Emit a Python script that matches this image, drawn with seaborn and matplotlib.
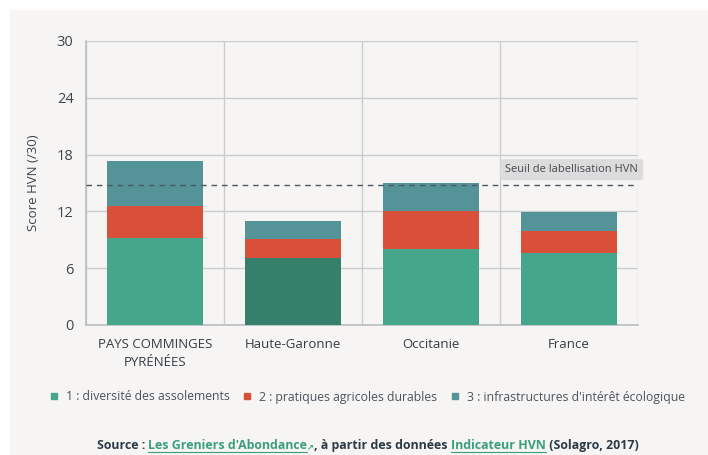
import matplotlib
matplotlib.use("Agg")
import matplotlib.pyplot as plt
from matplotlib.lines import Line2D
from matplotlib.patches import Rectangle
import pandas as pd
import seaborn as sns

# data

territoires = ["PAYS COMMINGES\nPYRÉNÉES", "Haute-Garonne", "Occitanie", "France"]
assolements = [9.2, 7.1, 8.0, 7.6]
pratiques = [3.4, 2.0, 4.0, 2.3]
infrastructures = [4.7, 1.9, 3.0, 2.0]
seuil_hvn = 14.8
yticks = [0, 6, 12, 18, 24, 30]
legend_labels = ["1 : diversité des assolements", "2 : pratiques agricoles durables",
                 "3 : infrastructures d'intérêt écologique"]

# colours

green = "#46a68c"
green_dark = "#35806a"
red = "#d8503a"
teal = "#549499"
grid_col = "#c9cdd1"
text_col = "#3b4652"
bg = "#f6f5f3"

df = pd.DataFrame({
    "territoire": territoires,
    "c1": assolements,
    "c2": pratiques,
    "c3": infrastructures,
})
df["cum2"] = df["c1"] + df["c2"]
df["cum3"] = df["cum2"] + df["c3"]

sns.set_style("white")
plt.rcParams["font.family"] = ["Open Sans", "DejaVu Sans"]

fig = plt.figure(figsize=(7.08, 4.55), dpi=100, facecolor="white")
fig.patches.append(Rectangle((10 / 708, 0), 1, 1 - 10 / 455, transform=fig.transFigure,
                             facecolor=bg, edgecolor="none", zorder=-10))
ax = fig.add_axes([86 / 708, 1 - 325 / 455, (638 - 86) / 708, (325 - 41) / 455])
ax.set_facecolor(bg)

# stacked bars: draw cumulative totals from top down
bar_kw = dict(width=0.7, ax=ax, zorder=3, saturation=1, linewidth=0)
sns.barplot(data=df, x="territoire", y="cum3", color=teal, **bar_kw)
sns.barplot(data=df, x="territoire", y="cum2", color=red, **bar_kw)
sns.barplot(data=df, x="territoire", y="c1", hue="territoire", legend=False,
            palette=[green, green_dark, green, green], **bar_kw)

# threshold line
ax.axhline(seuil_hvn, color="#4b5661", lw=1, ls=(0, (4, 3.5)), zorder=4)
ax.annotate("Seuil de labellisation HVN", xy=(3.02, seuil_hvn), xytext=(0, 7),
            textcoords="offset points", ha="center", va="bottom", fontsize=8,
            color="#444b52", annotation_clip=False, zorder=5,
            bbox=dict(boxstyle="round,pad=0.45,rounding_size=0.3", fc="#dcdcdc", ec="none"))

# axes, grid
ax.set_ylim(0, 30)
ax.set_xlim(-0.5, 3.5)
ax.set_yticks(yticks)
ax.set_xticks(range(len(territoires)))
ax.set_xticks([-0.5, 0.5, 1.5, 2.5, 3.5], minor=True)
ax.set_xticklabels(territoires, fontsize=9.5, color="#333d47", linespacing=1.5)
ax.tick_params(axis="x", which="major", length=0, pad=9)
ax.tick_params(axis="x", which="minor", length=5, color=grid_col, width=1)
ax.tick_params(axis="y", length=3, color=grid_col, width=1, labelsize=10.5, labelcolor=text_col, pad=6)
ax.grid(axis="y", color=grid_col, lw=1, zorder=0)
ax.grid(axis="x", which="minor", color=grid_col, lw=1, zorder=0)
ax.set_axisbelow(True)
for s in ["top", "right"]:
    ax.spines[s].set_visible(False)
for s in ["left", "bottom"]:
    ax.spines[s].set_color("#b9bec3")
    ax.spines[s].set_linewidth(1.2)
ax.set_xlabel("")
ax.set_ylabel("Score HVN (/30)", fontsize=9.5, color=text_col, labelpad=12)

# legend
handles = [Line2D([], [], marker="s", ls="none", markersize=4.5, color=c) for c in [green, red, teal]]
leg = fig.legend(handles, legend_labels, loc="center left", bbox_to_anchor=(38 / 708, 1 - 397 / 455),
                 ncol=3, frameon=False, fontsize=8.8, handletextpad=0.6, columnspacing=1.0,
                 handlelength=0.8, labelcolor="#4a5560")

# source line, built from pieces
dark = "#2b3a47"
link = "#3a9e7c"
pieces = [("Source : ", dark), ("Les Greniers d'Abondance", link), ("↗", link),
          (", à partir des données ", dark), ("Indicateur HVN", link), (" (Solagro, 2017)", dark)]
base_y = 1 - 449 / 455
texts = []
for txt, col in pieces:
    size = 6 if txt == "↗" else 8.9
    t = fig.text(97 / 708, base_y, txt, color=col, fontsize=size, fontweight="bold",
                 ha="left", va="baseline")
    texts.append(t)

renderer = fig.canvas.get_renderer()
x = 97
for t in texts:
    t.set_x(x / 708)
    x = t.get_window_extent(renderer).x1
total = x - 97
x = 367.5 - total / 2
for t in texts:
    t.set_x(x / 708)
    x = t.get_window_extent(renderer).x1
for i in [1, 4]:
    bb = texts[i].get_window_extent(renderer)
    fig.add_artist(Line2D([bb.x0 / 708, bb.x1 / 708], [1 - 451.5 / 455] * 2,
                          transform=fig.transFigure, color=link, lw=0.8))

fig.savefig("out.png", dpi=100, facecolor="white")
